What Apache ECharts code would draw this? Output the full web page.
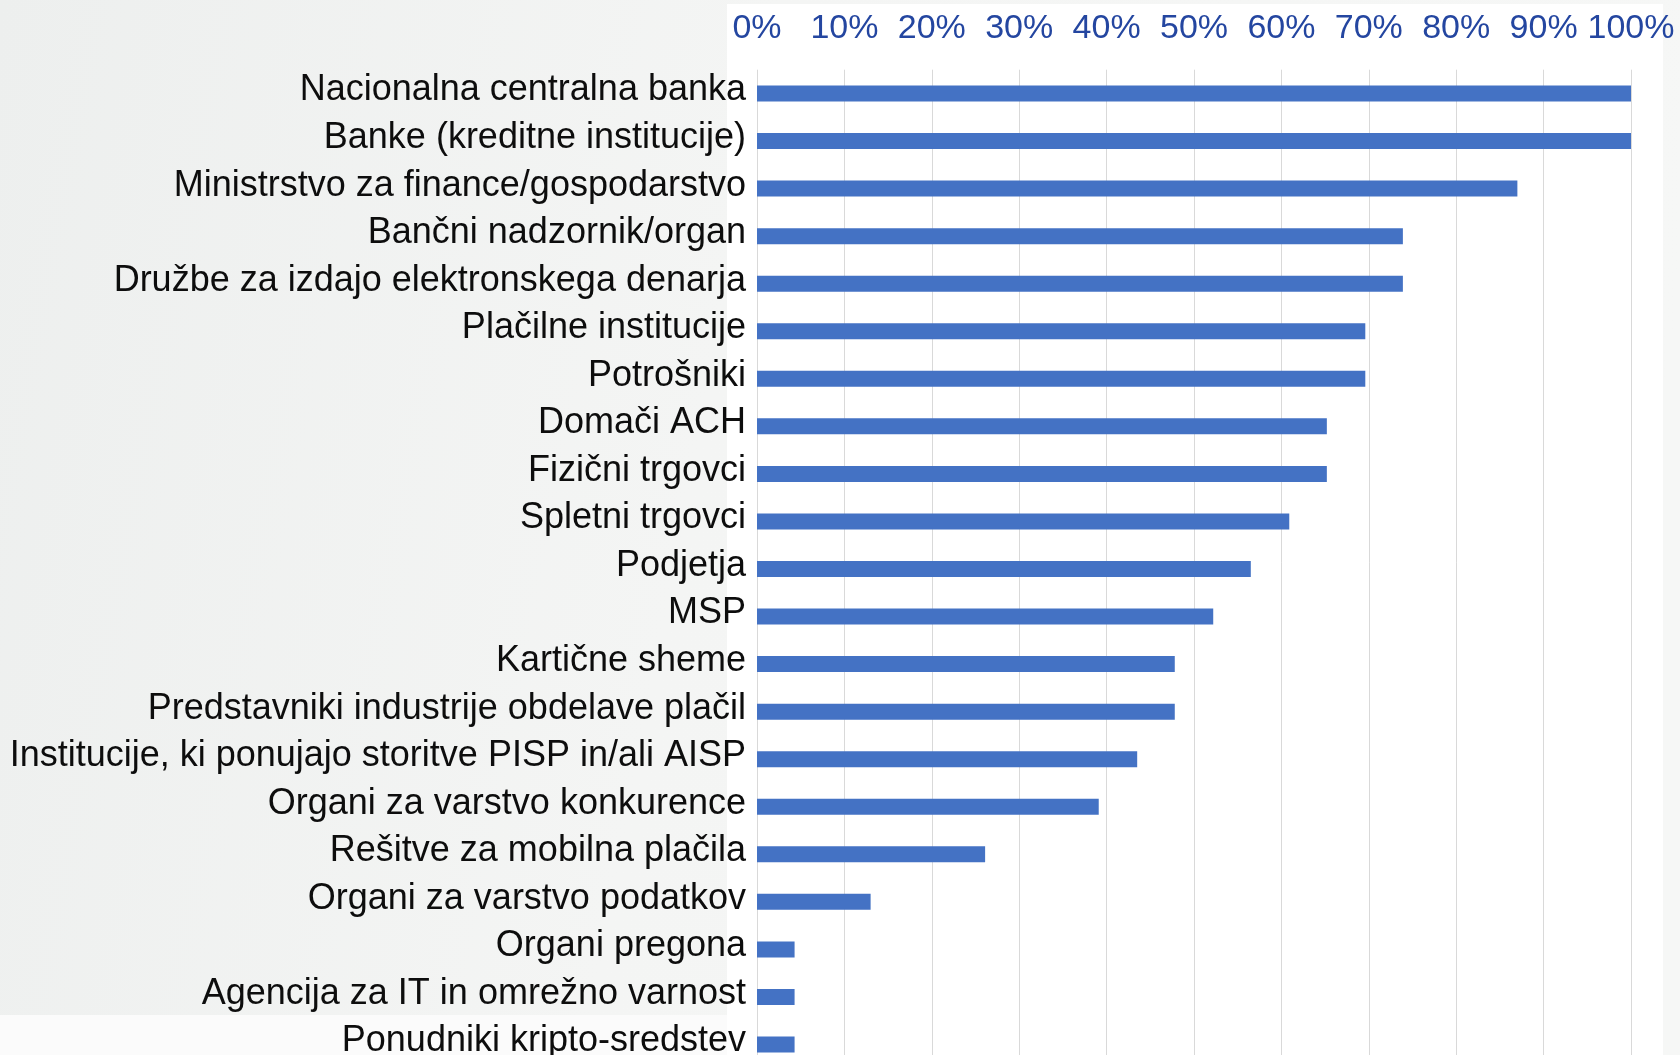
<!DOCTYPE html>
<html>
<head>
<meta charset="utf-8">
<script src="https://cdn.jsdelivr.net/npm/echarts@6/dist/echarts.min.js"></script>
<style>
html,body{margin:0;padding:0;width:1680px;height:1055px;overflow:hidden;background:#f3f4f3;}
#c{width:1680px;height:1055px;}
</style>
</head>
<body>
<div id="c"></div>
<script>
const categories = [
  "Nacionalna centralna banka",
  "Banke (kreditne institucije)",
  "Ministrstvo za finance/gospodarstvo",
  "Bančni nadzornik/organ",
  "Družbe za izdajo elektronskega denarja",
  "Plačilne institucije",
  "Potrošniki",
  "Domači ACH",
  "Fizični trgovci",
  "Spletni trgovci",
  "Podjetja",
  "MSP",
  "Kartične sheme",
  "Predstavniki industrije obdelave plačil",
  "Institucije, ki ponujajo storitve PISP in/ali AISP",
  "Organi za varstvo konkurence",
  "Rešitve za mobilna plačila",
  "Organi za varstvo podatkov",
  "Organi pregona",
  "Agencija za IT in omrežno varnost",
  "Ponudniki kripto-sredstev"
];
const values = [100, 100, 87.0, 73.9, 73.9, 69.6, 69.6, 65.2, 65.2, 60.9, 56.5, 52.2, 47.8, 47.8, 43.5, 39.1, 26.1, 13.0, 4.3, 4.3, 4.3];
const tickLabels = ["0%","10%","20%","30%","40%","50%","60%","70%","80%","90%","100%"];

const chart = echarts.init(document.getElementById('c'), null, {renderer:'canvas'});
chart.setOption({
  animation: false,
  backgroundColor: {
    type: 'linear', x: 0, y: 0, x2: 1, y2: 0.3,
    colorStops: [{offset: 0, color: '#edefee'}, {offset: 0.45, color: '#f4f5f4'}, {offset: 1, color: '#f6f7f6'}]
  },
  graphic: [
    {type: 'rect', z: -10, silent: true, shape: {x: 727, y: 4, width: 936, height: 1060}, style: {fill: '#ffffff'}},
    {type: 'rect', z: -10, silent: true, shape: {x: 0, y: 1015, width: 727, height: 50}, style: {fill: '#fbfbfb'}}
  ],
  grid: {left: 757, top: 69.7, width: 874, height: 998.6, containLabel: false, outerBoundsMode: 'none'},
  xAxis: {
    type: 'value', position: 'top', min: 0, max: 100, interval: 10,
    axisLine: {show: false}, axisTick: {show: false},
    splitLine: {show: true, lineStyle: {color: '#d9d9d9', width: 1}},
    axisLabel: {
      margin: 24, color: '#2446a0', fontSize: 34, fontFamily: 'Liberation Sans, Arial, sans-serif',
      formatter: function (v) { return tickLabels[Math.round(v / 10)]; }
    }
  },
  yAxis: {
    type: 'category', data: categories, inverse: true,
    axisLine: {show: false}, axisTick: {show: false}, splitLine: {show: false},
    axisLabel: {
      margin: 11, color: '#0d0d0d', fontSize: 36, fontFamily: 'Liberation Sans, Arial, sans-serif',
      verticalAlign: 'bottom', lineHeight: 6, interval: 0
    }
  },
  series: [{
    type: 'bar', data: values, barWidth: 16,
    itemStyle: {color: '#4472c4'}
  }]
});
</script>
</body>
</html>
